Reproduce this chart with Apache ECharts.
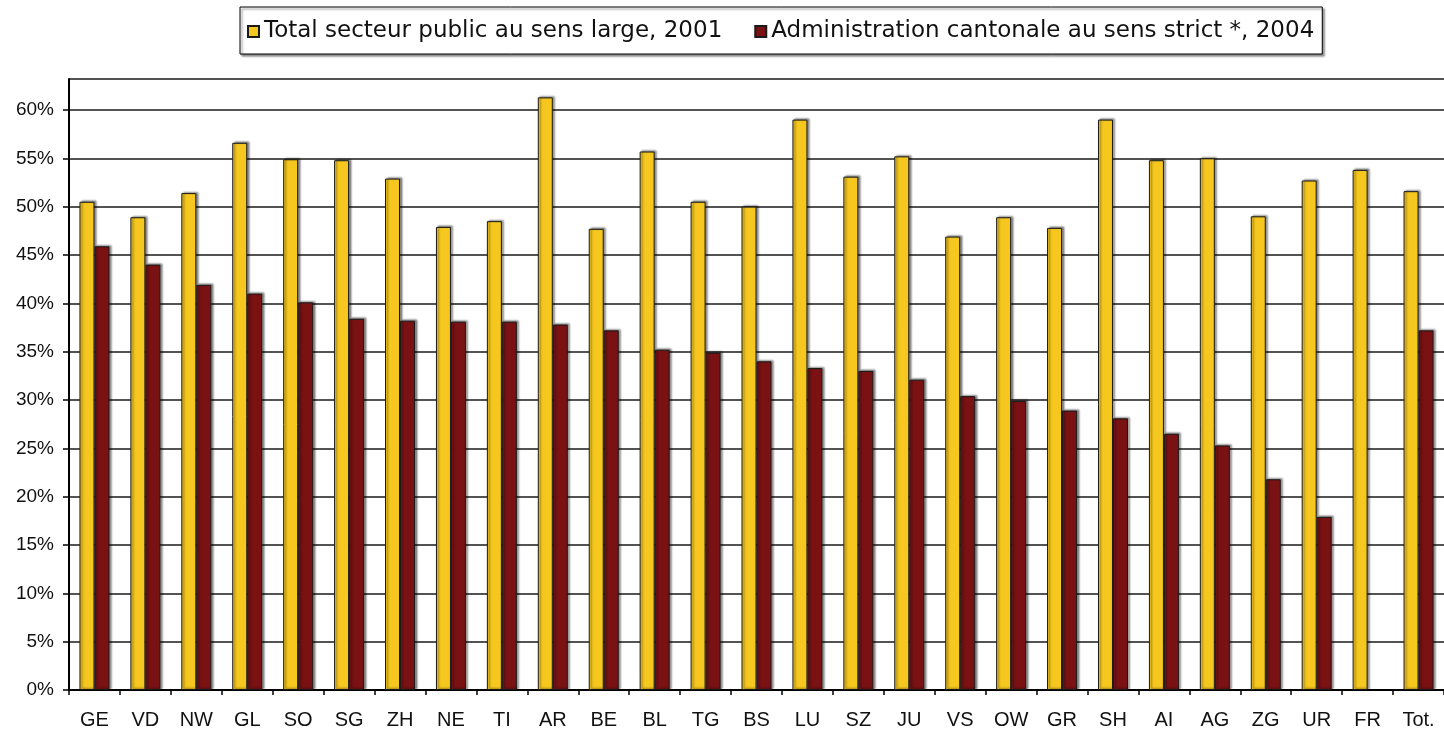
<!DOCTYPE html>
<html>
<head>
<meta charset="utf-8">
<title>Secteur public</title>
<script src="https://cdn.jsdelivr.net/npm/echarts@6/dist/echarts.min.js"></script>
<style>
  html, body { margin: 0; padding: 0; background: #fff; }
  #chart { width: 1444px; height: 738px; }
</style>
</head>
<body>
<div id="chart"></div>
<script>
// cantons
var cantons = ["GE", "VD", "NW", "GL", "SO", "SG", "ZH", "NE", "TI", "AR", "BE", "BL", "TG", "BS",
  "LU", "SZ", "JU", "VS", "OW", "GR", "SH", "AI", "AG", "ZG", "UR", "FR", "Tot."];

// Total secteur public au sens large, 2001 (%)
var total2001 = [50.5, 48.9, 51.4, 56.6, 54.9, 54.8, 52.9, 47.9, 48.5, 61.3, 47.7, 55.7, 50.5, 50.0,
  59.0, 53.1, 55.2, 46.9, 48.9, 47.8, 59.0, 54.8, 55.0, 49.0, 52.7, 53.8, 51.6];

// Administration cantonale au sens strict, 2004 (%) - pas de valeur pour FR
var admin2004 = [45.9, 44.0, 41.9, 41.0, 40.1, 38.4, 38.2, 38.1, 38.1, 37.8, 37.2, 35.2, 34.9, 34.0,
  33.3, 33.0, 32.1, 30.4, 29.9, 28.9, 28.1, 26.5, 25.3, 21.8, 17.9, null, 37.2];

var seriesNames = ["Total secteur public au sens large, 2001", "Administration cantonale au sens strict *, 2004"];

var chart = echarts.init(document.getElementById("chart"));

var barStyle = function (color) {
  return {
    color: color,
    borderColor: "#1a1a1a",
    borderWidth: 1,
    shadowColor: "rgba(0,0,0,0.45)",
    shadowBlur: 2,
    shadowOffsetX: 2,
    shadowOffsetY: -1
  };
};

chart.setOption({
  animation: false,
  textStyle: { fontFamily: "Liberation Sans, Arial, sans-serif" },
  legend: {
    data: seriesNames,
    icon: "rect",
    left: 240,
    top: 7,
    padding: [13, 8, 11, 7],
    itemWidth: 11,
    itemHeight: 11,
    itemGap: 32,
    borderColor: "#000",
    borderWidth: 1,
    shadowColor: "rgba(0,0,0,0.45)",
    shadowBlur: 2,
    shadowOffsetX: 2,
    shadowOffsetY: 2,
    backgroundColor: "#fff",
    textStyle: { fontSize: 23, color: "#111", fontFamily: "DejaVu Sans" }
  },
  grid: {
    left: 69,
    top: 79,
    width: 1380,
    height: 611,
    show: false
  },
  xAxis: {
    type: "category",
    data: cantons,
    axisLine: { lineStyle: { color: "#000", width: 2 } },
    axisTick: { show: true, length: 5, lineStyle: { color: "#000", width: 1.5 } },
    axisLabel: { fontSize: 20, color: "#111", margin: 20 }
  },
  yAxis: {
    type: "value",
    min: 0,
    max: 63.2,
    interval: 5,
    axisLine: { show: true, lineStyle: { color: "#000", width: 2 } },
    axisTick: { show: true, length: 6, lineStyle: { color: "#000", width: 1.5 } },
    axisLabel: {
      fontSize: 19,
      color: "#111",
      margin: 15,
      showMaxLabel: false,
      formatter: "{value}%"
    },
    splitLine: { show: true, lineStyle: { color: "#1a1a1a", width: 1.5 } }
  },
  series: [
    {
      name: seriesNames[0],
      type: "bar",
      data: total2001,
      barWidth: 15,
      barGap: "0%",
      itemStyle: barStyle("#F5C71F")
    },
    {
      name: seriesNames[1],
      type: "bar",
      data: admin2004,
      barWidth: 15,
      itemStyle: barStyle("#7A1214")
    }
  ]
});
</script>
</body>
</html>
